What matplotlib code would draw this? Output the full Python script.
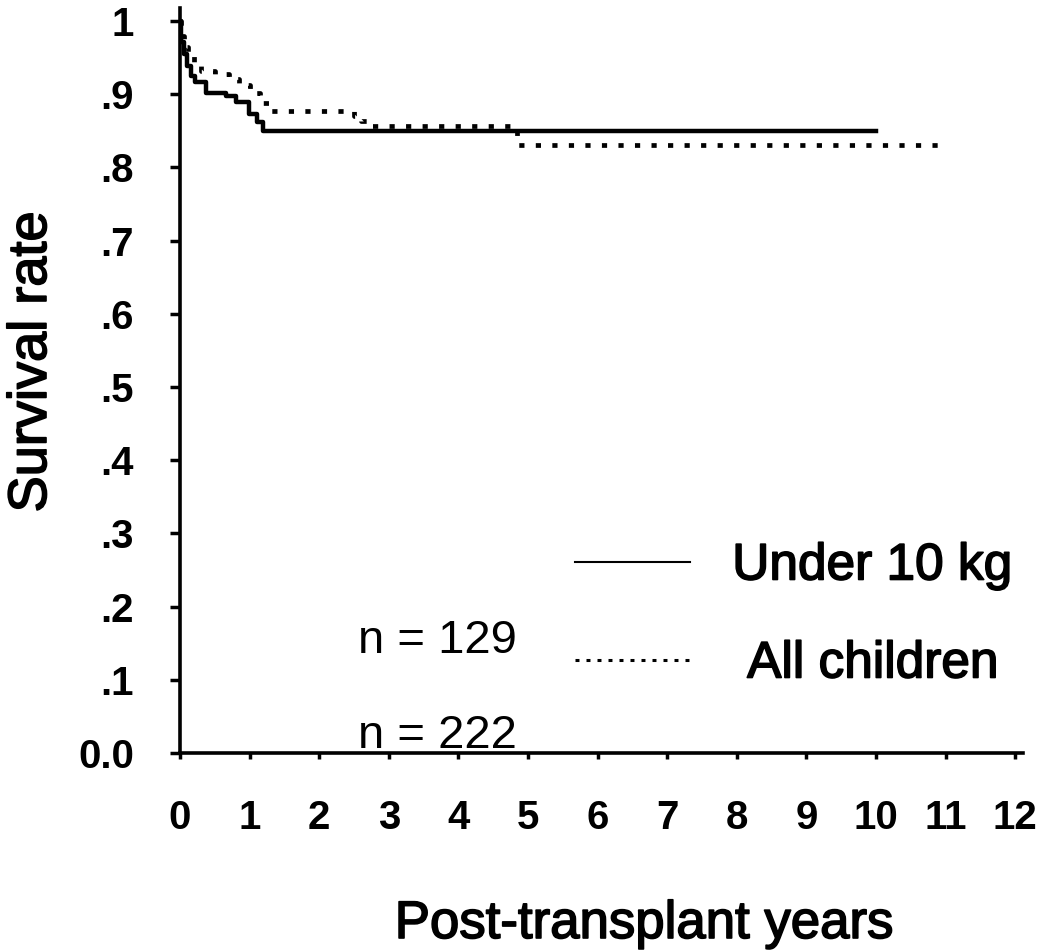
import matplotlib
matplotlib.use("Agg")
import matplotlib.pyplot as plt
import matplotlib.patheffects as pe
from matplotlib.lines import Line2D

# Kaplan-Meier style step curves
under10_years = [0, 0.02, 0.06, 0.10, 0.16, 0.22, 0.37, 0.66, 0.80, 0.99, 1.10, 1.19, 10.0]
under10_surv = [1.0, 0.971, 0.955, 0.939, 0.925, 0.916, 0.902, 0.898, 0.889, 0.873, 0.862, 0.850, 0.850]

all_years = [0, 0.02, 0.06, 0.12, 0.20, 0.30, 0.50, 0.70, 0.85, 1.00, 1.15, 1.28, 2.50, 2.60, 2.72, 4.84, 11.0]
all_surv = [1.0, 0.980, 0.965, 0.953, 0.940, 0.932, 0.927, 0.921, 0.912, 0.902, 0.888, 0.877, 0.870, 0.863, 0.857, 0.830, 0.830]

x_ticks = list(range(0, 13))
y_ticks = [0.0, 0.1, 0.2, 0.3, 0.4, 0.5, 0.6, 0.7, 0.8, 0.9, 1.0]
y_tick_labels = ["0.0", ".1", ".2", ".3", ".4", ".5", ".6", ".7", ".8", ".9", "1"]
series_labels = ["Under 10 kg", "All children"]
n_labels = ["n = 129", "n = 222"]

W, H = 1042, 950
fig = plt.figure(figsize=(W / 100, H / 100), dpi=100)
ax = fig.add_axes([180 / W, 1 - 753 / H, 843 / W, 745 / H])

ax.step(under10_years, under10_surv, where="post", color="black", lw=3.2)
ax.step(all_years, all_surv, where="post", color="black", lw=3.4,
        linestyle=(0, (1.1, 2.4)))

ax.set_xlim(0, 843 / 69.6)
ax.set_ylim(0, 745 / 732)

for s in ["top", "right"]:
    ax.spines[s].set_visible(False)
for s in ["left", "bottom"]:
    ax.spines[s].set_linewidth(2.6)

tick_font = dict(family=["Liberation Sans", "DejaVu Sans"], weight="bold", size=29)
ax.set_xticks(x_ticks)
ax.set_xticklabels([str(v) for v in x_ticks], **tick_font)
ax.set_yticks(y_ticks)
ax.set_yticklabels(y_tick_labels, **tick_font)
ax.tick_params(axis="x", length=4, width=2.5, pad=29)
ax.tick_params(axis="y", length=7, width=2.5, pad=26)

heavy = [pe.withStroke(linewidth=1.2, foreground="black")]
fig.text(32 / W, 1 - 362 / H, "Survival rate", rotation=90, ha="center", va="center",
         family=["Liberation Sans", "DejaVu Sans"], size=39, path_effects=heavy)
fig.text(644 / W, 1 - 938 / H, "Post-transplant years", ha="center", va="baseline",
         family=["Liberation Sans", "DejaVu Sans"], size=38, path_effects=heavy)

n_font = dict(family=["Liberation Sans", "DejaVu Sans"], size=34)
ax.text(2.56, 0.137, n_labels[0], ha="left", va="baseline", **n_font)
ax.text(2.56, 0.007, n_labels[1], ha="left", va="baseline", **n_font)

handles = [Line2D([], [], color="black", lw=1.5),
           Line2D([], [], color="black", lw=2.2, linestyle=(0, (1.3, 2.3)))]
row_y = [566, 664]
text_pad = [0.82, 1.11]
for h, lab, yy, tp in zip(handles, series_labels, row_y, text_pad):
    leg = fig.legend([h], [lab], loc="center left",
                     bbox_to_anchor=(575 / W, 1 - yy / H), frameon=False,
                     prop=dict(family=["Liberation Sans", "DejaVu Sans"], size=37),
                     handlelength=2.24, handletextpad=tp,
                     borderpad=0, borderaxespad=0)
    for t in leg.get_texts():
        t.set_path_effects(heavy)

fig.savefig("out.png", dpi=100)
